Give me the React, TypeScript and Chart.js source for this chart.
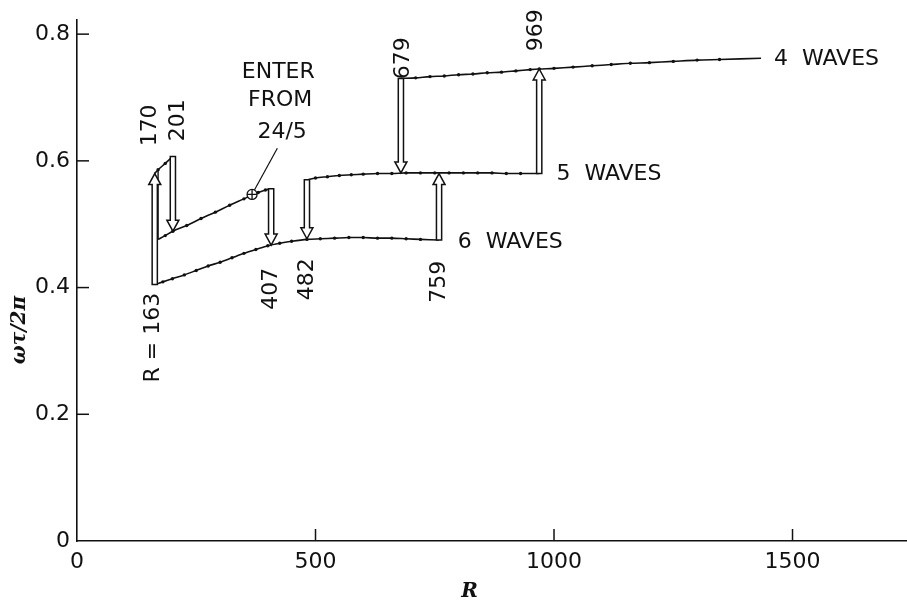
import React, { useEffect, useRef } from "react";
import { Chart, registerables } from "chart.js";

Chart.register(...registerables);

// ---- axis ticks ----
const xTicks = [0, 500, 1000, 1500];
const yTicks = [0, 0.2, 0.4, 0.6, 0.8];

// ---- branches (R, omega*tau/2pi) ----
const sixWavesR = [163, 180, 200, 225, 250, 275, 300, 325, 350, 375, 400, 425, 450, 482, 510, 540, 570, 600, 630, 660, 690, 720, 759];
const sixWavesW = [0.405, 0.409, 0.414, 0.42, 0.427, 0.434, 0.44, 0.447, 0.454, 0.46, 0.466, 0.47, 0.473, 0.476, 0.477, 0.478, 0.479, 0.479, 0.478, 0.478, 0.477, 0.476, 0.475];

const midBranchR = [170, 185, 201, 230, 260, 290, 320, 350, 367, 380, 395, 407];
const midBranchW = [0.476, 0.482, 0.489, 0.498, 0.509, 0.519, 0.53, 0.54, 0.546, 0.55, 0.554, 0.556];

const topBranchR = [163, 170, 185, 201];
const topBranchW = [0.58, 0.586, 0.596, 0.607];

const fiveWavesR = [482, 500, 525, 550, 575, 600, 630, 660, 690, 720, 750, 780, 810, 840, 870, 900, 930, 969];
const fiveWavesW = [0.57, 0.573, 0.575, 0.577, 0.578, 0.579, 0.58, 0.58, 0.581, 0.581, 0.581, 0.581, 0.581, 0.581, 0.581, 0.58, 0.58, 0.58];

const fourWavesR = [679, 710, 740, 770, 800, 830, 860, 890, 920, 950, 969, 1000, 1040, 1080, 1120, 1160, 1200, 1250, 1300, 1347, 1434];
const fourWavesW = [0.73, 0.731, 0.733, 0.734, 0.736, 0.737, 0.739, 0.74, 0.742, 0.744, 0.745, 0.746, 0.748, 0.75, 0.752, 0.754, 0.755, 0.757, 0.759, 0.76, 0.762];

// connector at R = 170
const connectorR = [170, 170];
const connectorW = [0.476, 0.586];

// ---- transition arrows ----
const arrowR = [163, 201, 407, 482, 679, 759, 969];
const arrowFrom = [0.405, 0.607, 0.556, 0.57, 0.73, 0.475, 0.58];
const arrowTo = [0.58, 0.489, 0.467, 0.477, 0.581, 0.58, 0.745];

// ---- entry point (from 24/5) ----
const enterR = [367];
const enterW = [0.547];

// ---- text annotations ----
const rotatedLabels = ["170", "201", "R = 163", "407", "482", "759", "679", "969"];
const rotatedLabelR = [153, 213, 159, 407, 483, 759, 683, 963];
const rotatedLabelW = [0.656, 0.664, 0.321, 0.398, 0.413, 0.409, 0.762, 0.806];

const enterLines = ["ENTER", "FROM", "24/5"];
const enterLineR = [422, 426, 430];
const enterLineW = [0.74, 0.696, 0.645];

const waveLabels = ["4  WAVES", "5  WAVES", "6  WAVES"];
const waveLabelR = [1461, 1005, 798];
const waveLabelW = [0.76, 0.579, 0.471];

const FONT = '"DejaVu Sans", sans-serif';
const INK = "#111";

const zip = (xs: number[], ys: number[]) => xs.map((x, i) => ({ x, y: ys[i] }));

function drawArrow(ctx: CanvasRenderingContext2D, x: number, y0: number, y1: number) {
  const dir = y1 > y0 ? 1 : -1;
  const hw = 2.6;
  const hh = 6;
  const hl = 11;
  const yb = y1 - dir * hl;
  ctx.beginPath();
  ctx.moveTo(x - hw, y0);
  ctx.lineTo(x - hw, yb);
  ctx.lineTo(x - hh, yb);
  ctx.lineTo(x, y1);
  ctx.lineTo(x + hh, yb);
  ctx.lineTo(x + hw, yb);
  ctx.lineTo(x + hw, y0);
  ctx.closePath();
  ctx.fillStyle = "#fff";
  ctx.fill();
  ctx.lineWidth = 1.5;
  ctx.strokeStyle = INK;
  ctx.stroke();
}

const overlayPlugin = {
  id: "overlay",
  afterDatasetsDraw(chart: any) {
    const ctx: CanvasRenderingContext2D = chart.ctx;
    const xs = chart.scales.x;
    const ys = chart.scales.y;
    const area = chart.chartArea;
    ctx.save();

    // inward tick marks
    ctx.strokeStyle = INK;
    ctx.lineWidth = 1.5;
    yTicks.forEach((v) => {
      if (v === 0) return;
      const py = ys.getPixelForValue(v);
      ctx.beginPath();
      ctx.moveTo(area.left, py);
      ctx.lineTo(area.left + 12, py);
      ctx.stroke();
    });
    xTicks.forEach((v) => {
      if (v === 0) return;
      const px = xs.getPixelForValue(v);
      ctx.beginPath();
      ctx.moveTo(px, area.bottom);
      ctx.lineTo(px, area.bottom - 12);
      ctx.stroke();
    });

    // arrows
    arrowR.forEach((r, i) => {
      drawArrow(ctx, xs.getPixelForValue(r), ys.getPixelForValue(arrowFrom[i]), ys.getPixelForValue(arrowTo[i]));
    });

    // entry marker (circle with plus) and leader line
    enterR.forEach((r, i) => {
      const cx = xs.getPixelForValue(r);
      const cy = ys.getPixelForValue(enterW[i]);
      const rad = 5;
      ctx.beginPath();
      ctx.arc(cx, cy, rad, 0, Math.PI * 2);
      ctx.fillStyle = "#fff";
      ctx.fill();
      ctx.lineWidth = 1.3;
      ctx.strokeStyle = INK;
      ctx.stroke();
      ctx.beginPath();
      ctx.moveTo(cx - rad, cy);
      ctx.lineTo(cx + rad, cy);
      ctx.moveTo(cx, cy - rad);
      ctx.lineTo(cx, cy + rad);
      ctx.stroke();
      const tx = xs.getPixelForValue(420);
      const ty = ys.getPixelForValue(0.62);
      const ang = Math.atan2(ty - cy, tx - cx);
      ctx.beginPath();
      ctx.moveTo(cx + Math.cos(ang) * rad, cy + Math.sin(ang) * rad);
      ctx.lineTo(tx, ty);
      ctx.lineWidth = 1.2;
      ctx.stroke();
    });

    ctx.fillStyle = INK;
    ctx.font = `22px ${FONT}`;
    ctx.textBaseline = "middle";

    // rotated value labels
    rotatedLabels.forEach((t, i) => {
      ctx.save();
      ctx.translate(xs.getPixelForValue(rotatedLabelR[i]), ys.getPixelForValue(rotatedLabelW[i]));
      ctx.rotate(-Math.PI / 2);
      ctx.textAlign = "center";
      ctx.fillText(t, 0, 0);
      ctx.restore();
    });

    ctx.textAlign = "center";
    enterLines.forEach((t, i) => {
      ctx.fillText(t, xs.getPixelForValue(enterLineR[i]), ys.getPixelForValue(enterLineW[i]));
    });

    ctx.textAlign = "left";
    waveLabels.forEach((t, i) => {
      ctx.fillText(t, xs.getPixelForValue(waveLabelR[i]), ys.getPixelForValue(waveLabelW[i]));
    });

    // axis titles
    ctx.font = `italic bold 20px "DejaVu Serif", serif`;
    ctx.textAlign = "center";
    ctx.fillText("R", xs.getPixelForValue(823), 592);
    ctx.save();
    ctx.translate(20, ys.getPixelForValue(0.333));
    ctx.rotate(-Math.PI / 2);
    ctx.font = `italic bold 20px "DejaVu Serif", serif`;
    ctx.fillText("ωτ/2π", 0, 0);
    ctx.restore();

    ctx.restore();
  },
};

const lineDs = (xs: number[], ys: number[], showPts = true) => ({
  data: zip(xs, ys),
  borderColor: INK,
  backgroundColor: INK,
  borderWidth: 1.6,
  pointRadius: (c: any) => (showPts && c.dataIndex !== 0 && c.dataIndex !== c.dataset.data.length - 1 ? 1.7 : 0),
  pointBorderWidth: 0,
  tension: 0.3,
  fill: false,
});

export default function App() {
  const ref = useRef<HTMLCanvasElement | null>(null);
  useEffect(() => {
    document.body.style.margin = "0";
    const canvas = ref.current!;
    const chart = new Chart(canvas, {
      type: "line",
      data: {
        datasets: [
          lineDs(sixWavesR, sixWavesW),
          lineDs(midBranchR, midBranchW),
          lineDs(topBranchR, topBranchW),
          lineDs(fiveWavesR, fiveWavesW),
          lineDs(fourWavesR, fourWavesW),
          { ...lineDs(connectorR, connectorW, false), tension: 0, borderWidth: 1.4 },
        ] as any,
      },
      options: {
        animation: false,
        responsive: true,
        maintainAspectRatio: false,
        layout: { padding: { top: 20, right: 0, left: 0, bottom: 0 } },
        plugins: { legend: { display: false }, tooltip: { enabled: false } },
        scales: {
          x: {
            type: "linear",
            min: 0,
            max: 1740,
            afterBuildTicks: (s: any) => {
              s.ticks = xTicks.map((v) => ({ value: v }));
            },
            afterFit: (s: any) => {
              s.height = 61;
            },
            grid: { display: false, drawTicks: false },
            border: { display: true, color: INK, width: 1.6 },
            ticks: {
              color: INK,
              font: { family: "DejaVu Sans", size: 22 },
              padding: 8,
              maxRotation: 0,
              autoSkip: false,
              callback: (v: any) => String(v),
            },
          },
          y: {
            type: "linear",
            min: 0,
            max: 0.822,
            afterBuildTicks: (s: any) => {
              s.ticks = yTicks.map((v) => ({ value: v }));
            },
            afterFit: (s: any) => {
              s.width = 77;
            },
            grid: { display: false, drawTicks: false },
            border: { display: true, color: INK, width: 1.6 },
            ticks: {
              color: INK,
              font: { family: "DejaVu Sans", size: 22 },
              padding: 7,
              autoSkip: false,
              callback: (v: any) => (v === 0 ? "0" : Number(v).toFixed(1)),
            },
          },
        },
      },
      plugins: [overlayPlugin],
    });
    return () => chart.destroy();
  }, []);
  return (
    <div style={{ position: "relative", width: 907, height: 602, background: "#fff" }}>
      <canvas ref={ref} />
    </div>
  );
}
